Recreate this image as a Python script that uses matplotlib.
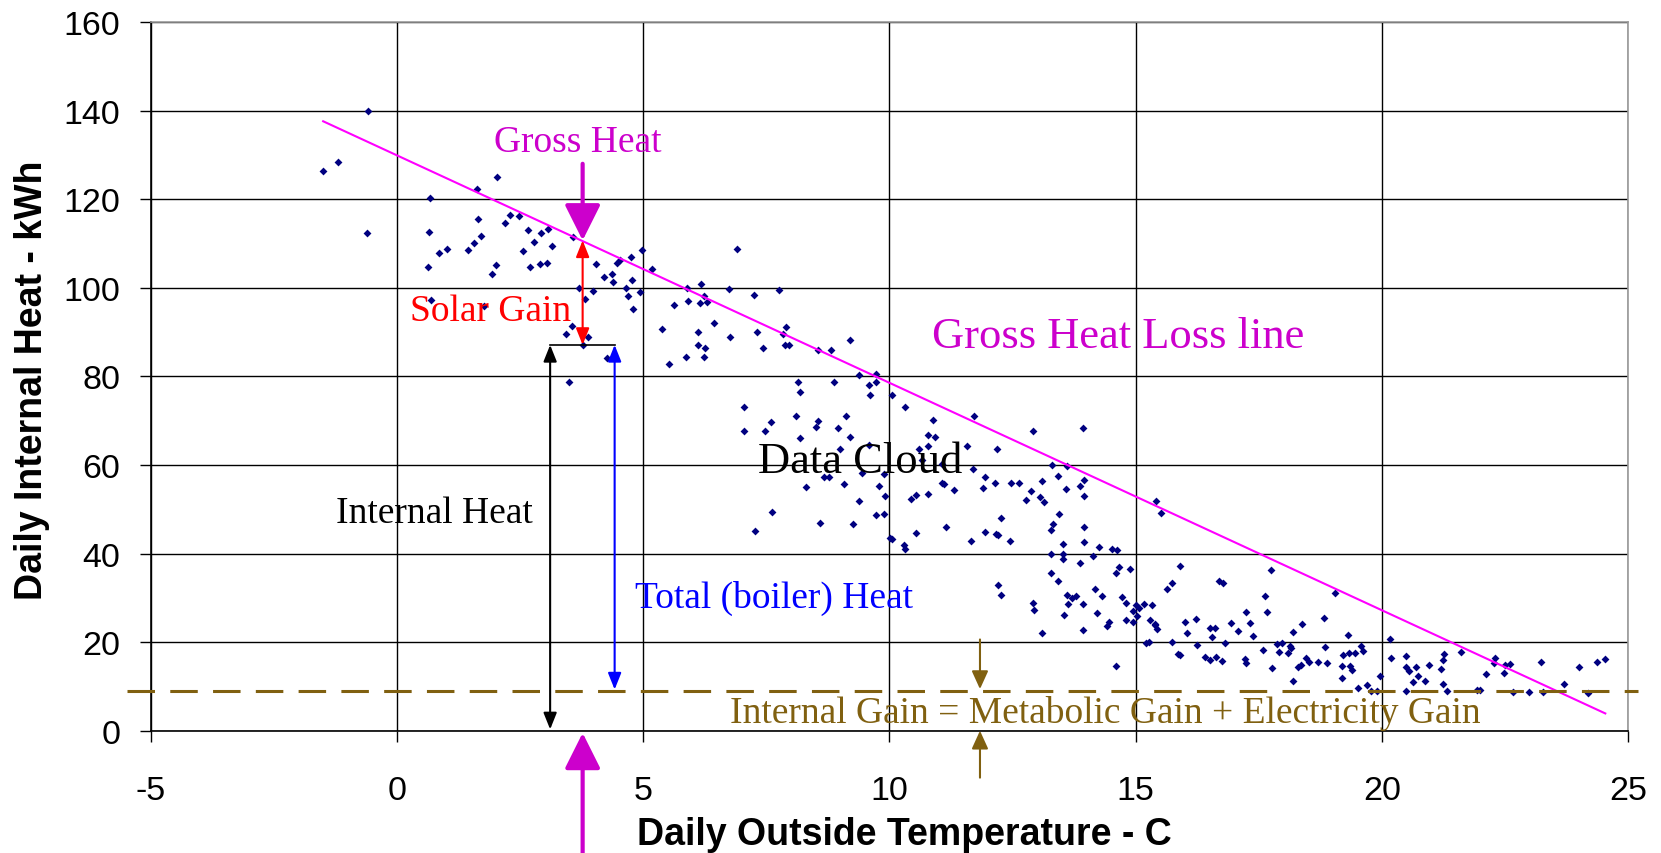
import matplotlib
matplotlib.use("Agg")
import matplotlib.pyplot as plt
from matplotlib.patches import FancyArrowPatch

plt.rcParams['axes.unicode_minus'] = False

# daily outside temperature (C) and daily internal heat (kWh)
temp = [-0.58, -1.51, -1.20, -0.60, 0.68, 0.65, 0.63, 0.85, 1.02, 0.70, 1.45, 1.56, 1.70, 1.65,
        1.62, 2.04, 1.76, 1.93, 2.02, 2.19, 2.30, 2.47, 2.67, 2.79, 2.93, 3.07, 3.15, 2.56,
        2.71, 2.90, 3.04, 3.58, 4.04, 3.69, 3.98, 3.81, 3.55, 3.44, 3.87, 3.77, 3.50,
        4.26, 4.21, 4.36, 4.38, 4.46, 4.52, 4.75, 4.97, 4.77, 4.66, 4.69, 4.94, 4.80, 5.17,
        5.38, 5.63, 5.53, 5.86, 5.88, 5.91, 6.17, 6.23, 6.15, 6.29, 6.11, 6.11, 6.26, 6.23,
        6.43, 6.74, 6.77, 6.91, 7.25, 7.31, 7.44, 7.76, 7.90, 7.84, 7.88, 7.96, 7.05, 7.05,
        7.48, 7.59, 7.61, 8.15, 8.18, 8.10, 8.19, 8.30, 8.55, 8.51, 8.68, 8.77, 8.59, 8.56,
        8.82, 8.88, 8.95, 9.12, 9.19, 9.00, 9.07, 9.27, 9.19, 9.39, 9.72, 9.58, 9.72, 9.61,
        10.06, 9.59, 9.44, 9.89, 9.78, 9.91, 9.39, 9.73, 9.89, 7.28, 10.05,
        10.32, 10.89, 10.78, 10.92, 10.78, 10.61, 10.66, 11.06, 11.72, 11.57, 11.70, 12.19,
        12.91, 13.94, 10.01, 10.30, 10.32, 10.43, 10.55, 10.78, 11.06, 11.11, 11.32, 11.15,
        10.55, 11.66, 11.94, 11.91, 12.14, 11.94, 12.16, 12.21, 12.26, 12.45, 12.47, 12.63,
        12.77, 12.88, 13.06, 13.14, 13.10, 13.30, 13.42, 13.60, 13.59, 13.88, 13.96, 13.96,
        13.45, 13.33, 13.28, 13.96, 13.96, 13.53, 13.29, 13.53, 13.53, 14.25, 14.52, 14.62,
        14.14, 13.87, 13.28, 13.42, 12.20, 12.26, 12.91, 12.94, 13.60, 13.70, 13.78, 13.62,
        13.94, 13.54, 14.17, 14.31, 14.22, 14.46, 14.66, 14.60, 14.88, 14.73, 14.81, 15.00,
        14.95, 15.03, 15.18, 15.34, 14.81, 14.95, 15.30, 15.40, 15.90, 15.74, 15.64, 15.41,
        15.52, 16.01, 16.22,
        13.10, 13.94, 14.41, 14.61, 15.40, 15.43, 15.22, 15.27, 15.75, 15.87, 15.07,
        17.76, 16.70, 16.77, 19.06, 17.63, 17.66, 17.24, 18.83, 16.94, 17.32, 17.09, 17.38,
        16.52, 16.61, 16.55, 16.04, 18.19, 18.37, 19.31, 20.17, 16.82, 16.25, 15.90, 16.41,
        16.52, 16.64, 16.75, 17.23, 17.24, 17.58, 17.88, 17.98, 17.92, 18.09, 18.14, 18.16,
        17.78, 18.30, 18.35, 18.47, 18.52, 18.71, 18.85, 18.88, 18.19, 19.22, 19.33, 19.45,
        19.19, 19.35, 19.40, 19.19, 19.57, 19.61, 19.52, 19.71, 19.78, 19.90, 19.96, 20.18,
        20.50, 20.50, 20.56, 20.70, 20.73, 20.64, 20.88, 20.95, 20.50, 21.21, 21.25, 21.27,
        21.24, 21.32, 21.61, 22.12, 21.93, 22.00, 22.29,
        22.28, 22.51, 22.61, 22.49, 22.67, 23.00, 23.28, 23.23, 23.71, 24.00, 24.18, 24.37,
        24.54]
heat = [139.9, 126.3, 128.5, 112.3, 120.2, 112.6, 104.7, 107.9, 108.8, 97.2, 108.5, 110.1, 111.7, 115.5,
        122.2, 125.0, 95.8, 103.1, 105.1, 114.6, 116.4, 116.2, 113.0, 110.4, 112.3, 113.3, 109.5, 108.2,
        104.7, 105.4, 105.7, 111.5, 105.4, 99.9, 99.3, 97.5, 91.4, 89.5, 88.9, 87.1, 78.7,
        84.1, 102.5, 103.1, 101.2, 105.7, 106.3, 106.9, 108.5, 101.8, 99.9, 98.1, 99.0, 95.2, 104.3,
        90.7, 96.2, 82.8, 84.4, 99.9, 97.1, 100.9, 98.1, 96.5, 96.8, 90.1, 87.0, 86.3, 84.4,
        92.0, 99.7, 88.9, 108.8, 98.4, 90.1, 86.3, 99.6, 91.1, 89.5, 87.0, 87.0, 73.0, 67.6,
        67.6, 69.6, 49.3, 78.7, 76.5, 71.0, 66.1, 55.0, 69.9, 68.6, 57.2, 57.2, 47.0, 86.0,
        86.0, 78.7, 68.3, 71.0, 66.3, 63.5, 55.8, 46.7, 88.2, 80.3, 80.6, 78.1, 78.7, 75.9,
        75.9, 64.5, 58.1, 57.9, 55.3, 53.0, 51.8, 48.6, 49.0, 45.1, 43.2,
        73.0, 70.2, 66.7, 66.4, 64.2, 63.7, 61.2, 60.2, 71.1, 64.2, 59.0, 63.5,
        67.6, 68.3, 43.4, 41.9, 41.1, 52.4, 53.3, 53.4, 56.0, 55.7, 54.3, 46.1,
        44.7, 42.9, 57.2, 54.9, 55.9, 44.8, 44.4, 44.1, 48.0, 42.9, 56.0, 56.0,
        52.1, 54.1, 52.7, 51.7, 56.3, 60.0, 57.5, 59.7, 54.6, 55.2, 56.5, 53.0,
        49.0, 46.7, 45.4, 46.0, 42.5, 42.2, 40.0, 40.0, 38.8, 41.4, 41.1, 40.7,
        39.4, 37.8, 35.6, 33.9, 33.0, 30.6, 28.9, 27.3, 30.7, 30.0, 30.5, 28.7,
        28.7, 26.1, 32.1, 30.5, 26.5, 24.5, 37.0, 35.6, 36.6, 30.2, 28.9, 28.3,
        27.0, 26.0, 28.7, 28.3, 25.1, 24.5, 25.1, 24.1, 37.2, 33.4, 32.1, 51.8,
        49.2, 24.5, 25.3,
        22.0, 22.8, 23.6, 14.6, 23.9, 22.9, 19.8, 20.1, 20.1, 17.3, 27.6,
        36.2, 33.9, 33.4, 31.2, 30.5, 26.7, 26.7, 25.5, 24.4, 24.4, 22.6, 21.3,
        23.2, 23.2, 21.2, 22.0, 22.3, 24.1, 21.7, 20.7, 19.7, 19.4, 17.1, 16.6,
        16.0, 16.6, 15.7, 16.1, 15.3, 18.2, 19.5, 19.8, 17.8, 17.6, 19.2, 18.7,
        14.1, 14.3, 14.8, 16.5, 15.6, 15.6, 19.0, 15.2, 11.2, 17.1, 17.5, 17.5,
        14.6, 14.5, 13.7, 11.9, 19.1, 17.9, 9.7, 10.3, 9.0, 9.0, 12.4, 16.5,
        16.9, 14.4, 13.4, 14.3, 12.4, 10.9, 11.2, 14.9, 9.0, 14.0, 16.0, 17.3,
        10.6, 9.0, 17.8, 12.7, 9.2, 9.2, 16.4,
        15.3, 14.9, 15.0, 13.0, 8.8, 8.8, 8.8, 15.6, 10.5, 14.3, 8.5, 15.6,
        16.2]

# gross heat loss line end points
loss_x = [-1.5, 24.54]
loss_y = [137.6, 3.9]

internal_gain = 9.0      # metabolic + electricity gain (kWh)
gain_span = [-5.48, 25.2]

# worked example at about 3.8 C
t_black, t_gross, t_blue = 3.11, 3.77, 4.42
gross_level = 110.7
total_level = 87.1
t_brown = 11.84

magenta = '#FF00FF'
magenta_txt = '#CC00CC'
brown = '#806010'
navy = '#000080'

fig = plt.figure(figsize=(16.61, 8.54), dpi=100)
ax = fig.add_axes([0.0908, 0.1432, 0.8893, 0.8298])

ax.set_xlim(-5, 25)
ax.set_ylim(0, 160)
ax.set_xticks(range(-5, 26, 5))
ax.set_yticks(range(0, 161, 20))
ax.grid(True, color='black', lw=1.0)
ax.set_axisbelow(True)
for s in ['left', 'bottom']:
    ax.spines[s].set_color('black')
    ax.spines[s].set_linewidth(1.2)
for s in ['top', 'right']:
    ax.spines[s].set_color('#999999')
    ax.spines[s].set_linewidth(1.2)

ax.tick_params(direction='out', length=8, width=1, labelsize=24.5)
ax.tick_params(axis='x', pad=24)
ax.tick_params(axis='y', pad=14)
for lab in ax.get_xticklabels() + ax.get_yticklabels():
    lab.set_family('Liberation Sans')

ax.set_xlabel('Daily Outside Temperature - C', family='Liberation Sans',
              fontsize=27, fontweight='bold')
ax.set_ylabel('Daily Internal Heat - kWh', family='Liberation Sans',
              fontsize=27, fontweight='bold')
ax.xaxis.set_label_coords(0.51, -0.121)
ax.yaxis.set_label_coords(-0.068, 0.496)

# data and lines
ax.scatter(temp, heat, marker='D', s=16, color=navy, lw=0, zorder=3)
ax.plot(loss_x, loss_y, color=magenta, lw=1.5, zorder=4)
ax.plot(gain_span, [internal_gain, internal_gain], color=brown, lw=2.2,
        dashes=(9, 5), clip_on=False, zorder=4)


def arrow(p0, p1, style, color, lw, hl, hw):
    a = FancyArrowPatch(p0, p1, arrowstyle=f'{style},head_length={hl},head_width={hw}',
                        mutation_scale=1, color=color, lw=lw, shrinkA=0, shrinkB=0,
                        clip_on=False, zorder=5)
    ax.add_patch(a)


arrow((t_gross, 128), (t_gross, gross_level), '-|>', magenta_txt, 3, 22, 11)
arrow((t_gross, -27.7), (t_gross, -0.5), '-|>', magenta_txt, 3, 22, 11)
arrow((t_gross, gross_level), (t_gross, total_level), '<|-|>', 'red', 1.5, 10, 4)
arrow((t_black, total_level), (t_black, 0.3), '<|-|>', 'black', 1.5, 10, 4)
arrow((t_blue, total_level), (t_blue, internal_gain + 0.3), '<|-|>', 'blue', 1.5, 10, 4)
ax.plot([t_black, t_blue], [total_level, total_level], color='black', lw=1.2, zorder=5)
arrow((t_brown, 20.6), (t_brown, internal_gain + 0.4), '-|>', brown, 1.5, 11, 5)
arrow((t_brown, -10.6), (t_brown, 0), '-|>', brown, 1.5, 11, 5)

serif = 'Liberation Serif'
ax.text(3.67, 130.9, 'Gross Heat', color=magenta_txt, family=serif, fontsize=27,
        ha='center', va='baseline')
ax.text(14.64, 86.7, 'Gross Heat Loss line', color=magenta_txt, family=serif, fontsize=32,
        ha='center', va='baseline')
ax.text(1.90, 92.8, 'Solar Gain', color='red', family=serif, fontsize=27,
        ha='center', va='baseline')
ax.text(9.40, 58.5, 'Data Cloud', color='black', family=serif, fontsize=32,
        ha='center', va='baseline', zorder=6)
ax.text(0.76, 47.2, 'Internal Heat', color='black', family=serif, fontsize=27,
        ha='center', va='baseline')
ax.text(7.65, 27.9, 'Total (boiler) Heat', color='blue', family=serif, fontsize=27,
        ha='center', va='baseline')
ax.text(14.38, 1.9, 'Internal Gain = Metabolic Gain + Electricity Gain', color=brown,
        family=serif, fontsize=27, ha='center', va='baseline')

fig.savefig('out.png', dpi=100)
